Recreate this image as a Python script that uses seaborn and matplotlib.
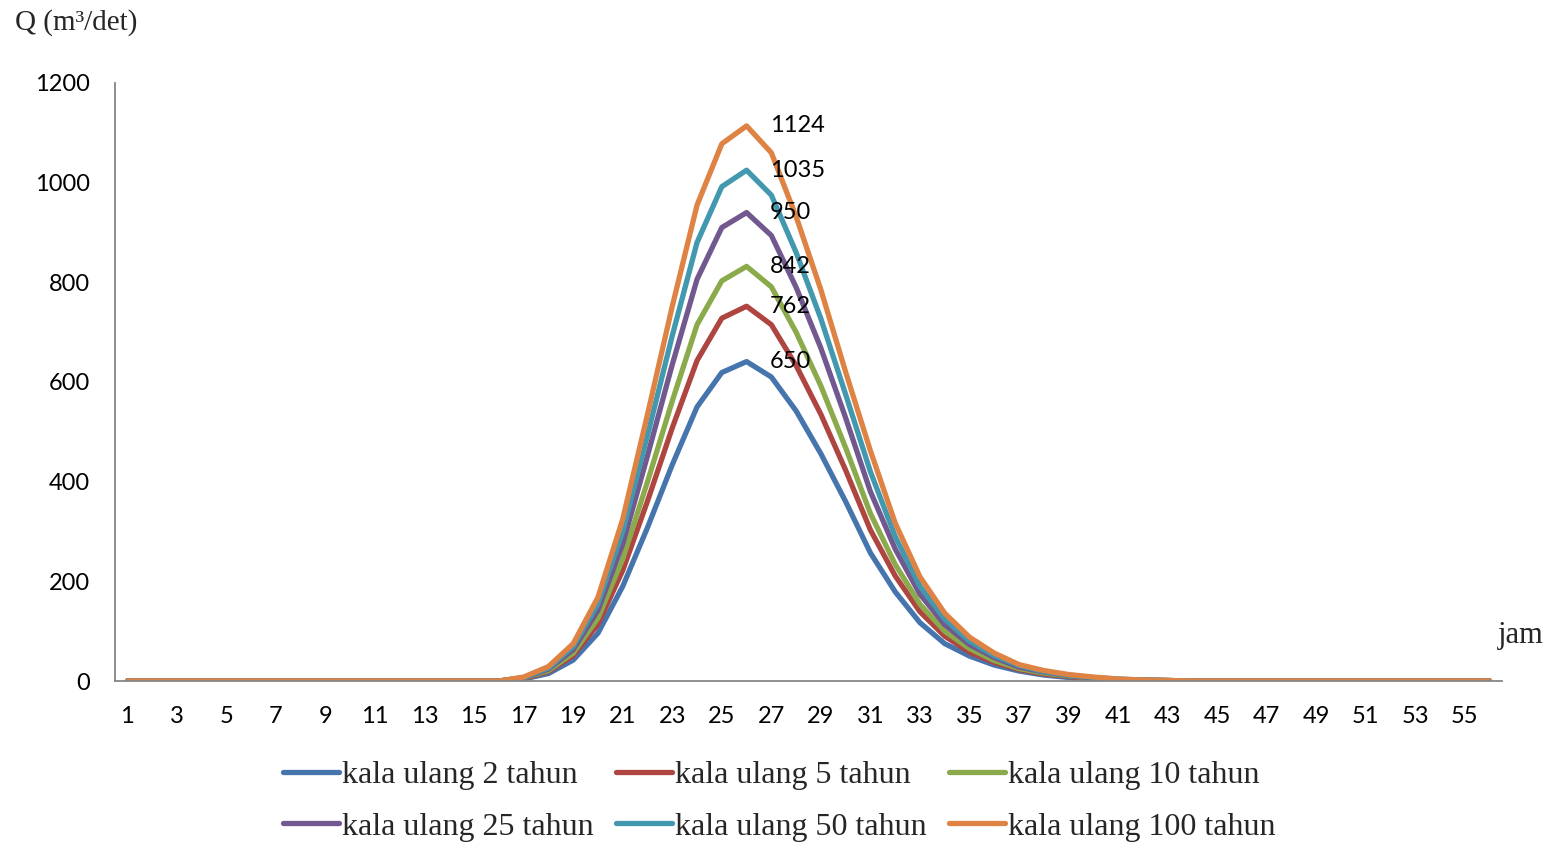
import numpy as np
import pandas as pd
import matplotlib
matplotlib.use("Agg")
import matplotlib.pyplot as plt
import seaborn as sns

hours = list(range(1, 57))
z16 = [0] * 16
z13 = [0] * 13

q2 = z16 + [4, 15, 42, 96, 190, 308, 434, 550, 619, 641, 610, 542, 456, 360, 257, 179, 117, 75, 50, 32, 20, 12, 7, 4, 2, 1, 0] + z13
q5 = z16 + [5, 19, 51, 114, 222, 361, 508, 643, 728, 752, 715, 633, 535, 423, 303, 211, 139, 90, 58, 37, 23, 14, 9, 5, 3, 1, 1] + z13
q10 = z16 + [6, 21, 56, 126, 245, 400, 562, 715, 803, 832, 791, 700, 592, 468, 336, 234, 154, 100, 65, 41, 25, 16, 10, 6, 3, 2, 1] + z13
q25 = z16 + [6, 24, 63, 142, 275, 452, 635, 806, 910, 940, 894, 790, 668, 528, 380, 265, 174, 113, 73, 47, 28, 18, 11, 6, 3, 2, 1] + z13
q50 = z16 + [7, 26, 69, 155, 300, 493, 693, 880, 992, 1025, 975, 860, 727, 575, 420, 290, 190, 124, 80, 51, 31, 19, 12, 7, 4, 2, 1] + z13
q100 = z16 + [8, 29, 75, 168, 325, 535, 752, 955, 1078, 1114, 1060, 932, 785, 620, 462, 317, 209, 136, 88, 56, 33, 21, 13, 8, 4, 2, 1] + z13

series_names = ["kala ulang 2 tahun", "kala ulang 5 tahun", "kala ulang 10 tahun",
                "kala ulang 25 tahun", "kala ulang 50 tahun", "kala ulang 100 tahun"]
series_values = [q2, q5, q10, q25, q50, q100]
peak_labels = ["650", "762", "842", "950", "1035", "1124"]
peak_hour = 26
colors = ["#4675AE", "#AE4541", "#8BAA4B", "#71588F", "#4198AF", "#DE8344"]

x_ticks = list(range(1, 56, 2))
y_ticks = [0, 200, 400, 600, 800, 1000, 1200]

rows = []
for name, vals in zip(series_names, series_values):
    for h, v in zip(hours, vals):
        rows.append({"jam": h, "Q": v, "seri": name})
df = pd.DataFrame(rows)

sns.set_style("white")
plt.rcParams["font.family"] = ["Lato", "DejaVu Sans"]

W, H = 1551, 843
fig = plt.figure(figsize=(W / 100, H / 100), dpi=100)
ax = fig.add_axes([115 / W, 1 - 681 / H, (1502 - 115) / W, (681 - 83) / H])

sns.lineplot(data=df, x="jam", y="Q", hue="seri", hue_order=series_names,
             palette=colors, linewidth=3.8, ax=ax, legend=True)

ax.set_xlim(0.5, 56.5)
ax.set_ylim(0, 1200)
ax.set_xticks(x_ticks)
ax.set_xticklabels([str(t) for t in x_ticks])
ax.set_yticks(y_ticks)
ax.set_yticklabels([str(t) for t in y_ticks])
ax.tick_params(axis="both", length=0, labelsize=17, colors="black")
ax.tick_params(axis="y", pad=18)
ax.tick_params(axis="x", pad=18)
ax.set_xlabel("")
ax.set_ylabel("")
for s in ["top", "right"]:
    ax.spines[s].set_visible(False)
for s in ["left", "bottom"]:
    ax.spines[s].set_color("#868686")
    ax.spines[s].set_linewidth(1.3)
ax.grid(False)

# data labels at peaks
for name, vals, lab in zip(series_names, series_values, peak_labels):
    v = vals[hours.index(peak_hour)]
    ax.annotate(lab, xy=(peak_hour, v), xytext=(17, 0), textcoords="offset points",
                ha="left", va="center", fontsize=17, color="black")

# legend, filled row by row
handles, labels = ax.get_legend_handles_labels()
ax.legend_.remove()
order = [0, 3, 1, 4, 2, 5]
handles = [handles[i] for i in order]
labels = [labels[i] for i in order]
fig.legend(handles, labels, loc="center", bbox_to_anchor=(779 / W, 1 - 801 / H),
           ncol=3, frameon=False, handlelength=1.75, handletextpad=0.1,
           columnspacing=0.7, labelspacing=0.7,
           prop={"family": ["Liberation Serif"], "size": 23})

fig.text(15 / W, 1 - 23 / H, "Q (m³/det)", ha="left", va="center",
         fontsize=21, family=["Liberation Serif"])
fig.text(1498 / W, 1 - 635 / H, "jam", ha="left", va="center",
         fontsize=22, family=["Liberation Serif"])

fig.savefig("out.png", dpi=100, facecolor="white")
